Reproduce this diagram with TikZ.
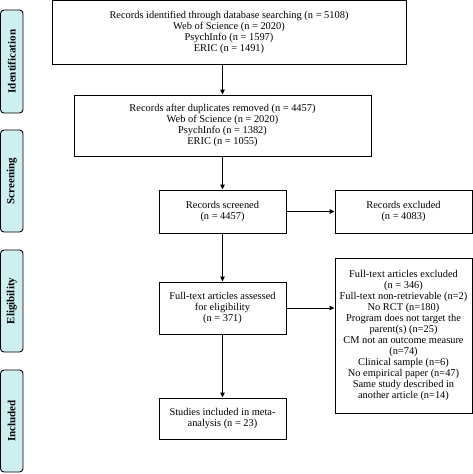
\documentclass[tikz,border=0pt]{standalone}
\usepackage{fontspec}
\setmainfont{Liberation Serif}
\usetikzlibrary{arrows.meta}
\definecolor{phasefill}{HTML}{CDEFF1}
\tikzset{
  box/.style={draw=black, line width=0.9pt, fill=white, align=center, inner sep=0pt,
    font=\fontsize{10.4}{11}\selectfont},
  phase/.style={draw=black, line width=0.9pt, fill=phasefill, rounded corners=3.5pt,
    inner sep=0pt},
  phasetext/.style={rotate=90, font=\bfseries\fontsize{11}{12}\selectfont},
  arr/.style={line width=0.9pt, -{Triangle[length=5pt,width=4.5pt]}}
}
\begin{document}
\begin{tikzpicture}[x=1pt,y=-1pt]
\useasboundingbox (0,0) rectangle (473,474);
% phase labels
\node[phase, minimum width=22.5pt, minimum height=103pt] (pid) at (11.75,61.5) {};
\node[phasetext] (tid) at (pid.center) {Identification};
\node[phase, minimum width=22.5pt, minimum height=102pt] (psc) at (11.75,181) {};
\node[phasetext] (tsc) at (psc.center) {Screening};
\node[phase, minimum width=22.5pt, minimum height=102pt] (pel) at (11.75,301) {};
\node[phasetext] (tel) at (pel.center) {Eligibility};
\node[phase, minimum width=22.5pt, minimum height=102pt] (pin) at (11.75,421) {};
\node[phasetext] (tin) at (pin.center) {Included};
% boxes
\node[box, minimum width=354pt, minimum height=63.5pt] (b1) at (229,32.25)
  {Records identified through database searching (n = 5108)\\Web of Science (n = 2020)\\PsychInfo (n = 1597)\\ERIC (n = 1491)};
\node[box, minimum width=297pt, minimum height=61pt] (b2) at (222.5,125.5)
  {Records after duplicates removed (n = 4457)\\Web of Science (n = 2020)\\PsychInfo (n = 1382)\\ERIC (n = 1055)};
\node[box, minimum width=127pt, minimum height=43pt] (b3) at (222.5,211.5)
  {Records screened\\(n = 4457)};
\node[box, minimum width=137pt, minimum height=43pt] (e1) at (403.5,211.5)
  {Records excluded\\(n = 4083)};
\node[box, minimum width=127pt, minimum height=52pt] (b4) at (222.5,308)
  {Full-text articles assessed\\for eligibility\\(n = 371)};
\node[box, minimum width=137pt, minimum height=155pt] (e2) at (403.5,335.5)
  {Full-text articles excluded\\(n = 346)\\Full-text non-retrievable (n=2)\\No RCT (n=180)\\Program does not target the\\parent(s) (n=25)\\CM not an outcome measure\\(n=74)\\Clinical sample (n=6)\\No empirical paper (n=47)\\Same study described in\\another article (n=14)};
\node[box, minimum width=127pt, minimum height=41pt] (b5) at (222.5,418.5)
  {Studies included in meta-\\analysis (n = 23)};
% connectors
\draw[arr] (b2.north |- b1.south) -- (b2.north);
\draw[arr] (b2.south) -- (b3.north);
\draw[arr] (b3.east) -- (e1.west);
\draw[arr] (b3.south) -- (b4.north);
\draw[arr] (b4.east) -- (b4.east -| e2.west);
\draw[arr] (b4.south) -- (b5.north);
\end{tikzpicture}
\end{document}
